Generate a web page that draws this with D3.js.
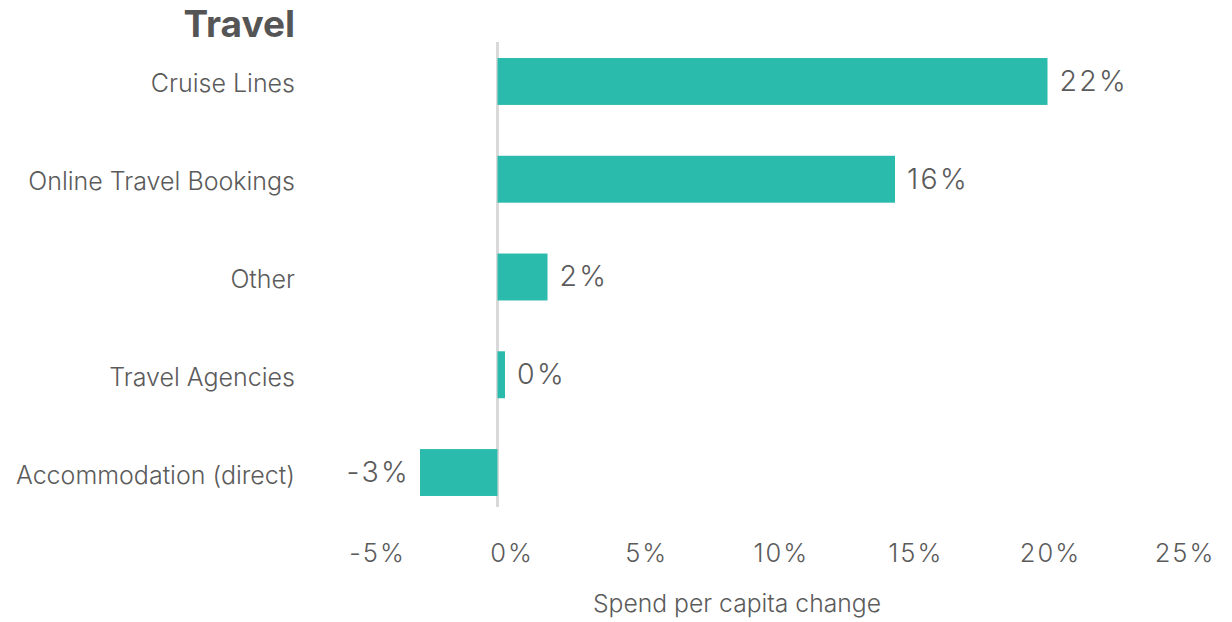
<!DOCTYPE html>
<html>
<head>
<meta charset="utf-8">
<script src="https://cdn.jsdelivr.net/npm/d3@7"></script>
<style>
  html, body { margin: 0; padding: 0; background: #fff; }
  svg { display: block; }
  text { font-family: Inter, "Noto Sans", sans-serif; fill: #5b5b5b; }
</style>
</head>
<body>
<svg id="chart" width="1232" height="622"></svg>
<script>
// Travel spend per capita change by category (percent)
const categories = ["Cruise Lines", "Online Travel Bookings", "Other", "Travel Agencies", "Accommodation (direct)"];
const values = [22.0, 15.9, 2.0, 0.3, -3.1];
const valueLabels = ["22%", "16%", "2%", "0%", "-3%"];
const tickValues = [-5, 0, 5, 10, 15, 20, 25];
const tickLabels = ["-5%", "0%", "5%", "10%", "15%", "20%", "25%"];
const title = "Travel";
const axisTitle = "Spend per capita change";

const svg = d3.select("#chart");
const barColor = "#2bbbad";

// bar scale: zero baseline sits at x≈497
const x = d3.scaleLinear().domain([-5, 25]).range([372.5, 1122.5]);
// tick label scale for the bottom axis text
const xTicks = d3.scaleLinear().domain([-5, 25]).range([377, 1184.5]);

const y = d3.scaleBand()
  .domain(categories)
  .range([32.6, 521.4])
  .paddingInner(0.52)
  .paddingOuter(0.26);

// zero line
svg.append("line")
  .attr("x1", x(0)).attr("x2", x(0))
  .attr("y1", 42).attr("y2", 507)
  .attr("stroke", "#d9d9d9")
  .attr("stroke-width", 3);

// bars
svg.append("g").selectAll("rect")
  .data(values)
  .join("rect")
  .attr("x", d => x(Math.min(0, d)))
  .attr("width", d => Math.abs(x(d) - x(0)))
  .attr("y", (d, i) => y(categories[i]))
  .attr("height", y.bandwidth())
  .attr("fill", barColor);

// value labels
svg.append("g").selectAll("text")
  .data(values)
  .join("text")
  .attr("x", d => d >= 0 ? x(d) + 12 : x(d) - 10)
  .attr("y", (d, i) => y(categories[i]) + y.bandwidth() / 2)
  .attr("dy", "0.33em")
  .attr("text-anchor", d => d >= 0 ? "start" : "end")
  .style("font-size", "28.5px")
  .style("font-weight", 300)
  .style("letter-spacing", "2.3px")
  .text((d, i) => valueLabels[i]);

// category labels
svg.append("g").selectAll("text")
  .data(categories)
  .join("text")
  .attr("x", 295)
  .attr("y", d => y(d) + y.bandwidth() / 2)
  .attr("dy", "0.44em")
  .attr("text-anchor", "end")
  .style("font-size", "25px")
  .style("font-weight", 300)
  .text(d => d);

// bottom axis labels
const axis = d3.axisBottom(xTicks)
  .tickValues(tickValues)
  .tickFormat((d, i) => tickLabels[i])
  .tickSize(0)
  .tickPadding(0);
const gAxis = svg.append("g")
  .attr("transform", "translate(0,544)")
  .call(axis);
gAxis.select(".domain").remove();
gAxis.selectAll("text")
  .attr("fill", "#5b5b5b")
  .style("font-family", "Inter, sans-serif")
  .style("font-size", "25.5px")
  .style("font-weight", 300)
  .style("letter-spacing", "2px");

// axis title
svg.append("text")
  .attr("x", 737)
  .attr("y", 612)
  .attr("text-anchor", "middle")
  .style("font-size", "24.7px")
  .style("font-weight", 300)
  .text(axisTitle);

// chart title
svg.append("text")
  .attr("x", 295)
  .attr("y", 37)
  .attr("text-anchor", "end")
  .style("font-size", "37px")
  .style("font-weight", "bold")
  .style("fill", "#555")
  .text(title);
</script>
</body>
</html>
